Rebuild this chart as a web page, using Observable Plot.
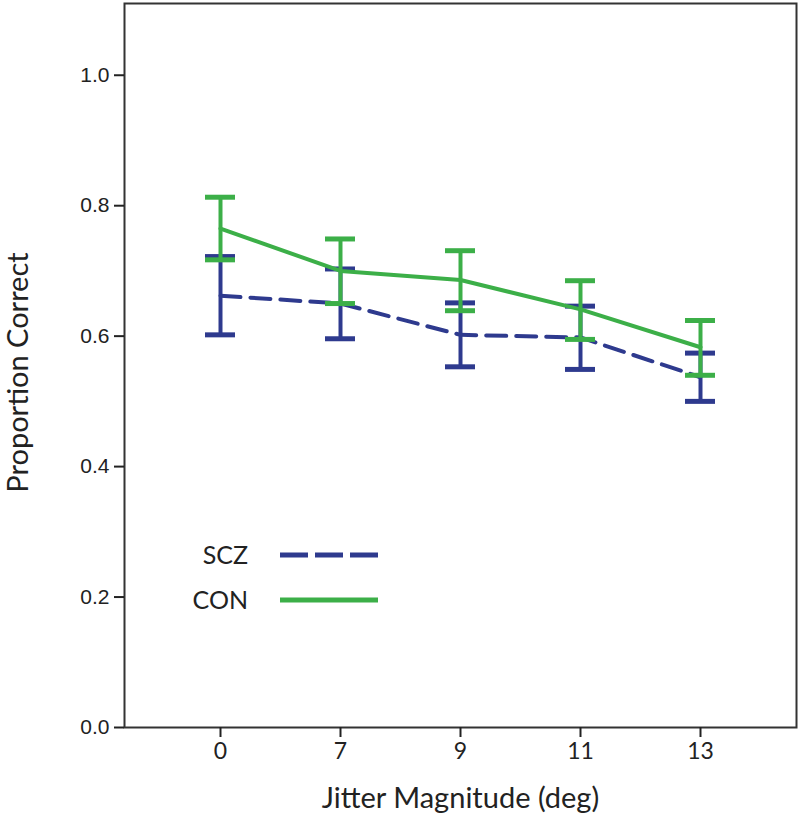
<!DOCTYPE html>
<html><head><meta charset="utf-8">
<script src="https://cdn.jsdelivr.net/npm/d3@7"></script>
<script src="https://cdn.jsdelivr.net/npm/@observablehq/plot@0.6"></script>
<style>
body{margin:0;background:#fff}
#wrap{position:relative;width:800px;height:818px}
#legend{position:absolute;left:0;top:0;pointer-events:none}
</style>
</head><body><div id="wrap"></div>
<script>
const jitter = ["0", "7", "9", "11", "13"];
const sczMean = [0.662, 0.650, 0.602, 0.598, 0.537];
const sczLow  = [0.602, 0.596, 0.553, 0.549, 0.500];
const sczHigh = [0.722, 0.703, 0.651, 0.646, 0.574];
const conMean = [0.765, 0.700, 0.686, 0.641, 0.583];
const conLow  = [0.717, 0.650, 0.639, 0.595, 0.540];
const conHigh = [0.813, 0.749, 0.731, 0.685, 0.624];
const yTicks = [0, 0.2, 0.4, 0.6, 0.8, 1.0];
const groups = ["SCZ", "CON"];

const BLUE = "#2e3a8e", GREEN = "#3caf48";
const build = (mean, low, high, g) => jitter.map((j, i) => ({jitter: j, mean: mean[i], low: low[i], high: high[i], group: g}));
const scz = build(sczMean, sczLow, sczHigh, groups[0]);
const con = build(conMean, conLow, conHigh, groups[1]);

function series(data, color, dash) {
  const cap = {x1: "jitter", x2: "jitter", stroke: color, strokeWidth: 5, insetLeft: -15, insetRight: -15};
  return [
    Plot.ruleX(data, {x: "jitter", y1: "low", y2: "high", stroke: color, strokeWidth: 4}),
    Plot.ruleY(data, {...cap, y: "low"}),
    Plot.ruleY(data, {...cap, y: "high"}),
    Plot.line(data, {x: "jitter", y: "mean", stroke: color, strokeWidth: 4, strokeDasharray: dash})
  ];
}

const chart = Plot.plot({
  width: 800, height: 818,
  marginLeft: 124, marginRight: 4, marginTop: 3, marginBottom: 91,
  style: {fontFamily: "Liberation Sans, Arial, sans-serif", fontSize: "16px", color: "#222", background: "#fff"},
  x: {type: "point", domain: jitter, padding: 0.777, label: null},
  y: {domain: [0, 1.11], label: null},
  marks: [
    Plot.frame({stroke: "#333", strokeWidth: 2}),
    Plot.axisY(yTicks, {tickSize: 10, tickPadding: 5, strokeWidth: 2, stroke: "#222", tickFormat: d3.format(".1f"), fill: "#222",
      label: "Proportion Correct", labelAnchor: "center", labelOffset: 117, labelArrow: "none"}),
    Plot.axisX(jitter, {tickSize: 10, tickPadding: 5, strokeWidth: 2, stroke: "#222", fill: "#222",
      label: "Jitter Magnitude (deg)", labelAnchor: "center", labelOffset: 80, labelArrow: "none"}),
    ...series(scz, BLUE, "20,10"),
    ...series(con, GREEN, null)
  ]
});
document.getElementById("wrap").appendChild(chart);

const svg = d3.select(chart);
svg.selectAll("g[aria-label='y-axis tick label'], g[aria-label='y-axis tick label'] text")
  .attr("font-size", 21).style("font-size", "21px").style("font-family", "'Liberation Sans', Arial, sans-serif");
svg.selectAll("g[aria-label='x-axis tick label'], g[aria-label='x-axis tick label'] text")
  .attr("font-size", 23).style("font-size", "23px").style("font-family", "Lato, 'Open Sans', sans-serif");
svg.selectAll("g[aria-label='x-axis label'], g[aria-label='x-axis label'] text, g[aria-label='y-axis label'], g[aria-label='y-axis label'] text")
  .attr("font-size", 29).style("font-size", "29px").style("font-family", "Lato, 'Open Sans', sans-serif").attr("fill", "#222");
svg.selectAll("g[aria-label='y-axis label'] text").attr("dx", -7);

// legend overlay
const legend = d3.select("#wrap").append("svg").attr("id", "legend").attr("width", 800).attr("height", 818);
const items = [{g: groups[0], color: BLUE, dash: "28,7"}, {g: groups[1], color: GREEN, dash: null}];
items.forEach((it, i) => {
  const y = 555 + i * 45;
  legend.append("text").attr("x", 248).attr("y", y).attr("dy", "0.36em").attr("text-anchor", "end")
    .style("font-family", "Lato, 'Open Sans', sans-serif").style("font-size", "25px").attr("fill", "#222").text(it.g);
  legend.append("line").attr("x1", 280).attr("x2", 378).attr("y1", y).attr("y2", y)
    .attr("stroke", it.color).attr("stroke-width", 5).attr("stroke-dasharray", it.dash);
});
</script></body></html>
